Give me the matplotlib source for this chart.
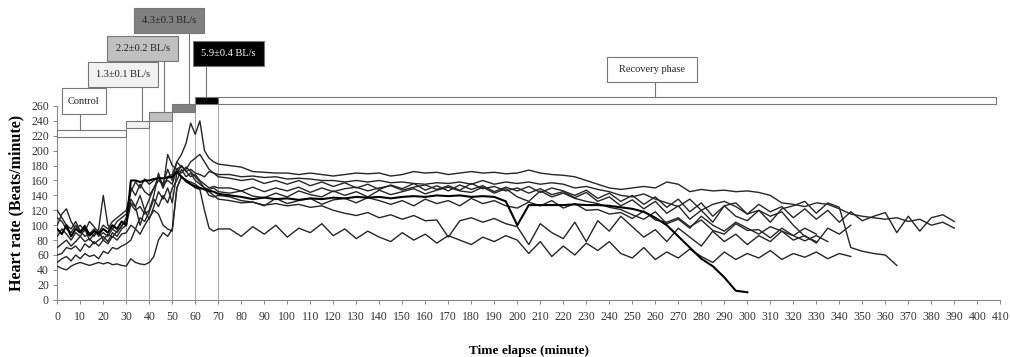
import numpy as np
import matplotlib
matplotlib.use("Agg")
import matplotlib.pyplot as plt
from matplotlib.patches import Rectangle

plt.rcParams['font.family'] = ['Liberation Serif', 'DejaVu Serif']

# ---------------- data ----------------
# exercise phase sampled every 2 min (0..70), recovery every 5 min from 75
s1_ex = [95, 88, 100, 85, 95, 90, 98, 86, 92, 88, 95, 90, 100, 95, 105, 100, 160, 160, 158, 160,
         160, 162, 163, 163, 164, 165, 172, 165, 160, 155, 152, 150, 148, 146, 145, 142]
s1_rec = [140, 138, 135, 137, 135, 136, 134, 136, 135, 137, 136, 138, 137, 138, 136, 138, 139, 138,
          140, 139, 140, 138, 139, 138, 132, 100, 127, 127, 127, 127, 128, 127, 127, 126, 124, 122,
          118, 110, 100, 85, 70, 55, 45, 30, 12, 10]

s2_ex = [110, 105, 95, 90, 100, 92, 85, 90, 85, 95, 140, 100, 95, 105, 110, 115, 130, 125, 140, 120,
         135, 150, 165, 155, 175, 160, 185, 195, 210, 237, 222, 240, 200, 190, 185, 182]
s2_rec = [180, 178, 172, 171, 170, 170, 168, 170, 168, 166, 168, 170, 169, 170, 166, 168, 172, 170,
          171, 168, 170, 172, 170, 171, 169, 170, 174, 170, 168, 167, 165, 160, 155, 150, 148, 150,
          152, 150, 158, 155, 145, 148, 146, 147, 145, 146, 144, 140, 130, 128, 125, 130, 128, 122,
          115, 112, 110, 108, 110, 105, 108, 100, 104, 96]

s3_ex = [70, 75, 80, 72, 78, 85, 78, 82, 75, 80, 85, 78, 90, 85, 95, 100, 128, 120, 125, 115,
         120, 140, 170, 150, 195, 180, 175, 180, 172, 175, 170, 168, 165, 172, 170, 168]
s3_rec = [168, 165, 166, 164, 165, 162, 163, 162, 160, 160, 158, 160, 158, 160, 157, 158, 156, 155,
          157, 156, 158, 155, 160, 155, 158, 156, 158, 155, 157, 155, 150, 152, 148, 145, 140, 138,
          142, 135, 130, 125, 135, 120, 128, 132, 125, 115, 120, 112, 118, 100, 85, 78]

s4_ex = [100, 115, 122, 105, 95, 100, 92, 105, 98, 90, 100, 95, 105, 110, 115, 120, 145, 158, 150, 162,
         155, 160, 165, 150, 165, 168, 185, 178, 175, 185, 190, 195, 185, 175, 170, 165]
s4_rec = [163, 160, 162, 156, 160, 155, 160, 153, 158, 152, 157, 150, 155, 148, 154, 149, 156, 147,
          153, 146, 154, 148, 153, 145, 151, 146, 152, 144, 150, 146, 140, 147, 136, 143, 132, 140,
          128, 138, 124, 135, 118, 130, 112, 126, 130, 115, 128, 118, 125, 110, 122, 108, 120, 104,
          118, 106, 112, 117, 90, 112, 92, 110, 114, 105]

s5_ex = [85, 95, 88, 80, 90, 85, 95, 80, 88, 92, 80, 88, 84, 92, 98, 110, 135, 125, 100, 120,
         108, 125, 145, 135, 150, 130, 170, 180, 172, 165, 168, 160, 155, 150, 152, 150]
s5_rec = [150, 146, 151, 145, 150, 146, 151, 144, 150, 145, 149, 151, 146, 150, 153, 147, 151, 154,
          148, 153, 147, 156, 149, 152, 146, 150, 143, 149, 141, 145, 137, 144, 132, 138, 126, 134,
          122, 132, 116, 126, 108, 120, 104, 126, 112, 106, 120, 104, 122, 126, 132, 116, 130, 124,
          70, 65, 62, 60, 46]

s6_ex = [60, 62, 70, 68, 72, 65, 75, 70, 78, 72, 80, 75, 85, 80, 88, 90, 100, 95, 110, 105,
         118, 135, 125, 140, 130, 150, 160, 175, 165, 170, 160, 155, 150, 148, 150, 145]
s6_rec = [143, 146, 139, 137, 143, 138, 146, 141, 138, 146, 140, 145, 138, 147, 141, 145, 149, 142,
          147, 151, 146, 144, 151, 143, 149, 138, 132, 146, 138, 143, 136, 132, 129, 124, 121, 114,
          108, 118, 102, 108, 96, 112, 100, 92, 104, 96, 88, 98, 92, 86, 96, 88]

s7_ex = [50, 55, 58, 52, 60, 55, 62, 58, 60, 55, 65, 62, 70, 68, 72, 75, 80, 95, 88, 100,
         110, 120, 115, 100, 95, 92, 150, 165, 160, 158, 155, 150, 148, 145, 140, 135]
s7_rec = [133, 130, 131, 127, 129, 126, 128, 124, 126, 120, 116, 113, 117, 110, 114, 108, 113, 106,
          107, 84, 106, 110, 104, 109, 102, 98, 74, 102, 90, 82, 104, 78, 106, 92, 112, 98,
          84, 94, 78, 96, 84, 72, 92, 78, 88, 74, 86, 78, 92, 80, 86, 76, 96, 88, 100]

s8_ex = [45, 42, 40, 45, 48, 50, 48, 46, 48, 50, 48, 50, 47, 48, 46, 45, 55, 50, 48, 47,
         50, 58, 80, 90, 85, 95, 150, 165, 158, 155, 150, 148, 120, 96, 92, 95]
s8_rec = [95, 85, 98, 88, 100, 84, 96, 90, 102, 86, 95, 82, 92, 84, 78, 90, 80, 88,
          76, 86, 80, 74, 84, 78, 86, 80, 62, 78, 58, 72, 60, 76, 66, 78, 62, 56,
          70, 54, 64, 56, 68, 58, 50, 64, 54, 62, 56, 66, 54, 62, 57, 64, 55, 62, 58]

s9_ex = [120, 110, 100, 95, 105, 92, 100, 88, 95, 85, 90, 85, 95, 90, 100, 105, 150, 140, 155, 145,
         140, 150, 160, 155, 160, 155, 175, 170, 178, 172, 165, 158, 150, 140, 138, 140]
s9_rec = [138, 133, 131, 126, 136, 129, 133, 136, 128, 134, 136, 130, 137, 133, 128, 133, 126, 135,
          129, 133, 126, 136, 129, 133, 126, 123, 131, 126, 133, 123, 129, 120, 121, 115, 117, 109,
          119, 107, 104, 110, 98, 107, 93, 88, 102, 93, 94, 83, 96, 86, 79, 86, 78]

series = [(s2_ex, s2_rec), (s3_ex, s3_rec), (s4_ex, s4_rec), (s5_ex, s5_rec),
          (s6_ex, s6_rec), (s7_ex, s7_rec), (s8_ex, s8_rec), (s9_ex, s9_rec)]
thick_series = (s1_ex, s1_rec)

# phases
phase_start = [0, 30, 40, 50, 60, 70]
phase_end = [30, 40, 50, 60, 70, 408]
phase_low = [218.4, 230, 240.3, 252, 262.7, 262.7]
phase_high = [228, 240.3, 251.5, 262.7, 272.5, 272.5]
phase_fill = ['white', '#f2f2f2', '#c0c0c0', '#808080', 'black', 'white']
phase_labels = ['Control', '1.3±0.1 BL/s', '2.2±0.2 BL/s', '4.3±0.3 BL/s', '5.9±0.4 BL/s',
                'Recovery phase']
label_text_color = ['#222222', '#222222', '#222222', '#222222', 'white', '#222222']
# label boxes (left, right, bottom, top) and connector x
box_l = [1.9, 13.2, 21.7, 33.3, 58.9, 239.0]
box_r = [21.2, 43.9, 52.6, 63.8, 89.9, 278.1]
box_b = [249.3, 285.1, 320.8, 357.6, 314.1, 291.8]
box_t = [283.8, 319.5, 354.0, 391.1, 347.7, 326.2]
conn_x = [10, 36.7, 46.4, 57.3, 64.5, 260]

# ---------------- figure ----------------
fig = plt.figure(figsize=(10.1, 3.57), dpi=100)
ax = fig.add_axes([0.0567, 0.1605, 0.9337, 0.5426])
ax.set_xlim(0, 410)
ax.set_ylim(0, 260)

edge = '#777777'
for x0, lo in zip([30, 40, 50, 60, 70], [230, 240.3, 252, 262.7, 262.7]):
    ax.plot([x0, x0], [0, lo], color='#999999', lw=0.6, clip_on=False, zorder=1)

def times(ex, rec):
    t = list(np.arange(len(ex)) * 2.0) + list(75 + 5.0 * np.arange(len(rec)))
    return np.array(t), np.array(list(ex) + list(rec), dtype=float)

for ex, rec in series:
    t, v = times(ex, rec)
    ax.plot(t, v, color='#262626', lw=1.0, zorder=3)
t, v = times(*thick_series)
ax.plot(t, v, color='black', lw=1.5, zorder=4)

for i in range(6):
    ax.add_patch(Rectangle((phase_start[i], phase_low[i]), phase_end[i] - phase_start[i],
                           phase_high[i] - phase_low[i], facecolor=phase_fill[i],
                           edgecolor=edge, lw=0.8, clip_on=False, zorder=5))
    ax.plot([conn_x[i], conn_x[i]], [phase_high[i], box_b[i]], color=edge, lw=0.8,
            clip_on=False, zorder=5)
    ax.add_patch(Rectangle((box_l[i], box_b[i]), box_r[i] - box_l[i], box_t[i] - box_b[i],
                           facecolor=phase_fill[i], edgecolor=edge, lw=0.8,
                           clip_on=False, zorder=6))
    ax.text((box_l[i] + box_r[i]) / 2, (box_b[i] + box_t[i]) / 2, phase_labels[i],
            ha='center', va='center', fontsize=7.5, color=label_text_color[i], zorder=7,
            clip_on=False)

for side in ['top', 'right']:
    ax.spines[side].set_visible(False)
for side in ['left', 'bottom']:
    ax.spines[side].set_color('#888888')
    ax.spines[side].set_linewidth(0.8)

ax.set_xticks(np.arange(0, 411, 10))
ax.set_yticks(np.arange(0, 261, 20))
ax.tick_params(axis='both', colors='#888888', labelcolor='#333333', labelsize=8.5,
               length=3, width=0.7, direction='out')
ax.tick_params(axis='x', pad=5)
ax.tick_params(axis='y', pad=3)

ax.set_xlabel('Time elapse (minute)', fontsize=9.5, fontweight='bold', labelpad=16)
ax.set_ylabel('Heart rate (Beats/minute)', fontsize=11.5, fontweight='bold', labelpad=5)

fig.savefig('out.png', dpi=100)
